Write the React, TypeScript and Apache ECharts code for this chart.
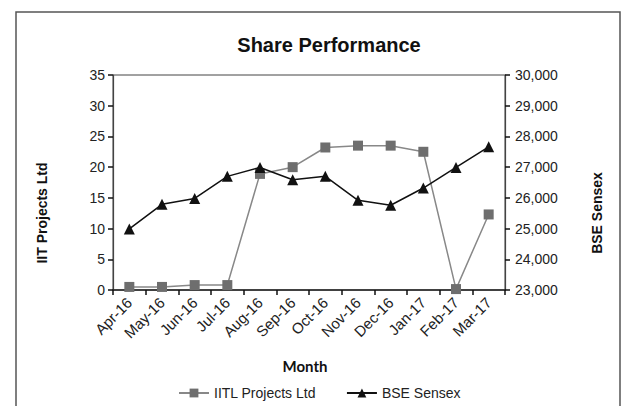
import React, { useEffect, useRef } from "react";
import * as echarts from "echarts";

const months = ["Apr-16", "May-16", "Jun-16", "Jul-16", "Aug-16", "Sep-16", "Oct-16", "Nov-16", "Dec-16", "Jan-17", "Feb-17", "Mar-17"];
const iitlValues = [0.5, 0.5, 0.8, 0.8, 18.9, 20.0, 23.2, 23.5, 23.5, 22.5, 0.15, 12.3];
const sensexValues = [24990, 25790, 25980, 26700, 26990, 26590, 26700, 25920, 25760, 26320, 26990, 27660];
const leftTicks = { min: 0, max: 35, interval: 5 };
const rightTicks = { min: 23000, max: 30000, interval: 1000 };

const FONT = "Liberation Sans, Arial, sans-serif";

export default function App() {
  const ref = useRef<HTMLDivElement>(null);
  useEffect(() => {
    if (!ref.current) return;
    const chart = echarts.init(ref.current, undefined, { renderer: "svg" });
    chart.setOption({
      animation: false,
      backgroundColor: "#ffffff",
      title: {
        text: "Share Performance",
        left: 324,
        top: 30,
        textAlign: "center",
        textStyle: { fontFamily: FONT, fontSize: 20, fontWeight: "bold", color: "#111" },
      },
      grid: {
        left: 113,
        right: 117,
        top: 75,
        bottom: 116,
        show: true,
        borderColor: "#444",
        borderWidth: 1,
      },
      legend: {
        top: 386,
        left: 178,
        padding: 0,
        itemWidth: 30,
        itemHeight: 11,
        itemGap: 30,
        textStyle: { fontFamily: FONT, fontSize: 14, color: "#222" },
        data: ["IITL Projects Ltd", "BSE Sensex"],
      },
      graphic: [
        {
          type: "rect",
          shape: { x: 16, y: 12, width: 604, height: 420 },
          style: { fill: "none", stroke: "#555", lineWidth: 1.5 },
          silent: true,
        },
        {
          type: "text",
          x: 42,
          y: 213,
          rotation: Math.PI / 2,
          style: {
            text: "IIT Projects Ltd",
            fontFamily: FONT,
            fontSize: 14,
            fontWeight: "bold",
            fill: "#111",
            align: "center",
            verticalAlign: "middle",
          },
        },
        {
          type: "text",
          x: 597,
          y: 213,
          rotation: Math.PI / 2,
          style: {
            text: "BSE Sensex",
            fontFamily: FONT,
            fontSize: 14,
            fontWeight: "bold",
            fill: "#111",
            align: "center",
            verticalAlign: "middle",
          },
        },
        {
          type: "text",
          x: 305,
          y: 366,
          style: {
            text: "Month",
            fontFamily: "Lato, sans-serif",
            fontSize: 15,
            fontWeight: "bold",
            fill: "#111",
            align: "center",
            verticalAlign: "middle",
          },
        },
      ],
      xAxis: {
        type: "category",
        data: months,
        boundaryGap: true,
        axisLine: { lineStyle: { color: "#222", width: 1.5 } },
        axisTick: { show: true, length: 5, inside: false, lineStyle: { color: "#111", width: 1.5 } },
        axisLabel: { rotate: 45, margin: 10, fontFamily: FONT, fontSize: 15, color: "#222", interval: 0 },
        splitLine: { show: false },
      },
      yAxis: [
        {
          type: "value",
          position: "left",
          min: leftTicks.min,
          max: leftTicks.max,
          interval: leftTicks.interval,
          axisLine: { show: true, lineStyle: { color: "#444", width: 1.2 } },
          axisTick: { show: true, length: 5, lineStyle: { color: "#111", width: 1.5 } },
          axisLabel: { margin: 8, fontFamily: FONT, fontSize: 14, color: "#222" },
          splitLine: { show: false },
        },
        {
          type: "value",
          position: "right",
          min: rightTicks.min,
          max: rightTicks.max,
          interval: rightTicks.interval,
          axisLine: { show: true, lineStyle: { color: "#444", width: 1.2 } },
          axisTick: { show: true, length: 5, lineStyle: { color: "#111", width: 1.5 } },
          axisLabel: {
            margin: 10,
            fontFamily: FONT,
            fontSize: 14,
            color: "#222",
            formatter: (v: number) => v.toLocaleString("en-US"),
          },
          splitLine: { show: false },
        },
      ],
      series: [
        {
          name: "IITL Projects Ltd",
          type: "line",
          yAxisIndex: 0,
          data: iitlValues,
          symbol: "rect",
          symbolSize: 10,
          itemStyle: { color: "#6e6e6e" },
          lineStyle: { color: "#888", width: 1.5 },
          z: 2,
        },
        {
          name: "BSE Sensex",
          type: "line",
          yAxisIndex: 1,
          data: sensexValues,
          symbol: "triangle",
          symbolSize: 11,
          itemStyle: { color: "#111" },
          lineStyle: { color: "#111", width: 1.5 },
          z: 3,
        },
      ],
    });
    return () => chart.dispose();
  }, []);
  return <div ref={ref} style={{ width: 622, height: 406, position: "absolute", left: 0, top: 0 }} />;
}
